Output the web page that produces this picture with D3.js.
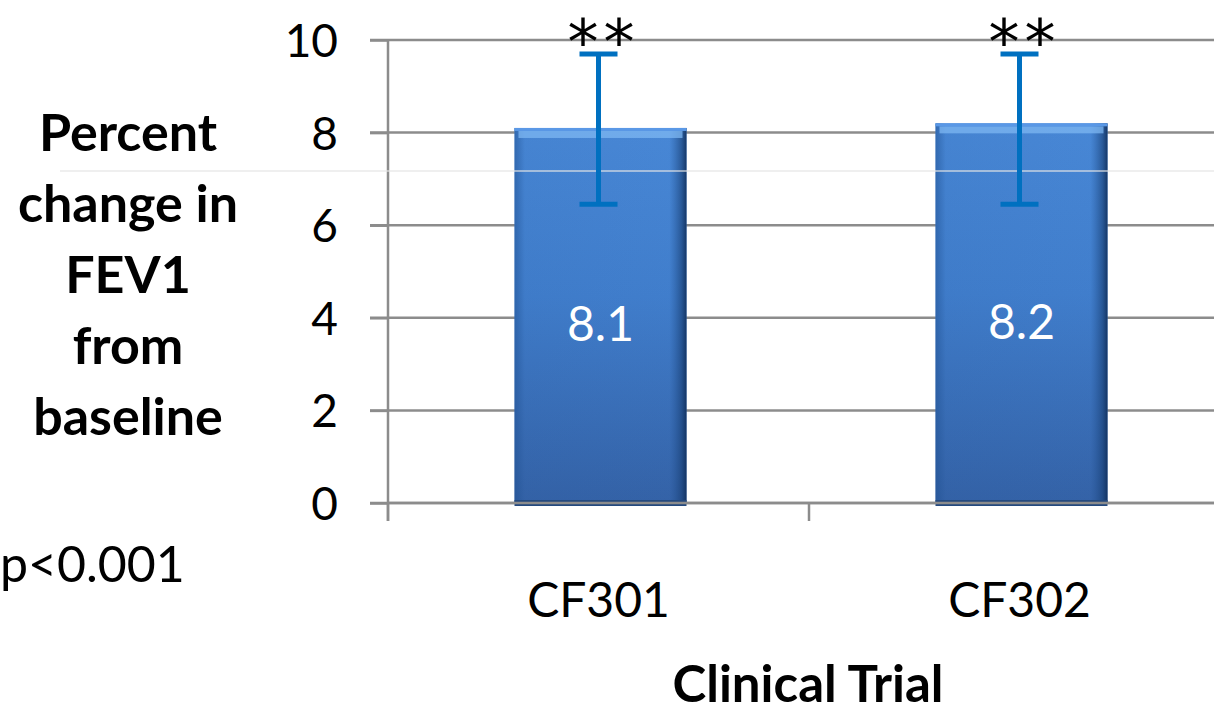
<!DOCTYPE html>
<html><head><meta charset="utf-8">
<script src="https://cdn.jsdelivr.net/npm/d3@7"></script>
<style>body{margin:0;background:#fff;overflow:hidden}svg{display:block}</style>
</head><body>
<script>
const categories = ["CF301", "CF302"];
const values = [8.1, 8.2];
const valueLabels = ["8.1", "8.2"];
const errLow = [6.45, 6.45];
const errHigh = [9.7, 9.7];
const sigMarks = ["**", "**"];
const yTicks = [0, 2, 4, 6, 8, 10];
const yTitleLines = ["Percent", "change in", "FEV1", "from", "baseline"];
const xTitle = "Clinical Trial";
const note = "p<0.001";

const W = 1214, H = 714;
const FONT = "Lato, 'Open Sans', sans-serif";
const svg = d3.select("body").append("svg").attr("width", W).attr("height", H);

const x0 = 388, x1 = 1230, yTop = 40, yBot = 503;
const x = d3.scaleBand().domain(categories).range([x0, x1]).paddingInner(0).paddingOuter(0);
const y = d3.scaleLinear().domain([0, 10]).range([yBot, yTop]);
const barW = 172;

const defs = svg.append("defs");
const gV = defs.append("linearGradient").attr("id", "gv").attr("x1", 0).attr("x2", 0).attr("y1", 0).attr("y2", 1);
gV.append("stop").attr("offset", "0").attr("stop-color", "#4a8ad9");
gV.append("stop").attr("offset", "0.45").attr("stop-color", "#4280cf");
gV.append("stop").attr("offset", "1").attr("stop-color", "#3563a8");
const gH = defs.append("linearGradient").attr("id", "gh").attr("x1", 0).attr("x2", 1).attr("y1", 0).attr("y2", 0);
gH.append("stop").attr("offset", "0").attr("stop-color", "#1f4f8f").attr("stop-opacity", 0.55);
gH.append("stop").attr("offset", "0.06").attr("stop-color", "#1f4f8f").attr("stop-opacity", 0.1);
gH.append("stop").attr("offset", "0.9").attr("stop-color", "#1f4f8f").attr("stop-opacity", 0.05);
gH.append("stop").attr("offset", "0.97").attr("stop-color", "#163c70").attr("stop-opacity", 0.6);
gH.append("stop").attr("offset", "1").attr("stop-color", "#102e5a").attr("stop-opacity", 0.9);

// gridlines
const gridColor = "#8c8c8c";
svg.append("g").selectAll("line").data(yTicks).join("line")
  .attr("x1", x0 - 18).attr("x2", W).attr("y1", d => y(d)).attr("y2", d => y(d))
  .attr("stroke", gridColor).attr("stroke-width", 2.5);

// y axis
const yAxis = d3.axisLeft(y).tickValues(yTicks).tickSize(18).tickPadding(32);
const ya = svg.append("g").attr("transform", `translate(${x0},0)`).call(yAxis);
ya.select(".domain").remove();
ya.selectAll(".tick line").attr("stroke", gridColor).attr("stroke-width", 2.5);
ya.selectAll(".tick text").attr("font-family", FONT).attr("font-size", 46).attr("fill", "#000").attr("dy", "0.36em");
svg.append("line").attr("x1", x0).attr("x2", x0).attr("y1", yTop).attr("y2", yBot + 18)
  .attr("stroke", gridColor).attr("stroke-width", 2.5);

// x axis ticks at band boundaries
const xa = d3.axisBottom(x).tickSize(0).tickPadding(80);
const xg = svg.append("g").attr("transform", `translate(0,${yBot})`).call(xa);
xg.select(".domain").remove();
xg.selectAll(".tick text").attr("font-family", FONT).attr("font-size", 48).attr("fill", "#000");
svg.append("g").selectAll("line").data(categories).join("line")
  .attr("x1", d => x(d)).attr("x2", d => x(d)).attr("y1", yBot).attr("y2", yBot + 18)
  .attr("stroke", gridColor).attr("stroke-width", 2.5);

// bars
const cx = d => x(d) + x.bandwidth() / 2;
const bars = svg.append("g").selectAll("g").data(categories).join("g");
bars.append("rect").attr("x", d => cx(d) - barW / 2 + 2).attr("width", barW)
  .attr("y", (d, i) => y(values[i])).attr("height", (d, i) => y(0) - y(values[i]))
  .attr("fill", "url(#gv)");
bars.append("rect").attr("x", d => cx(d) - barW / 2 + 2).attr("width", barW)
  .attr("y", (d, i) => y(values[i])).attr("height", (d, i) => y(0) - y(values[i]))
  .attr("fill", "url(#gh)");
bars.append("rect").attr("x", d => cx(d) - barW / 2 + 6).attr("width", barW - 8)
  .attr("y", (d, i) => y(values[i]) + 3).attr("height", 7)
  .attr("fill", "#7db7f2").attr("opacity", 0.75);
bars.append("rect").attr("x", d => cx(d) - barW / 2 + 2).attr("width", barW)
  .attr("y", (d, i) => y(values[i])).attr("height", 3)
  .attr("fill", "#5a98e6");
bars.append("rect").attr("x", d => cx(d) - barW / 2 + 2).attr("width", barW)
  .attr("y", y(0) - 3).attr("height", 6).attr("fill", "#24497e");
// baseline over bars
svg.append("line").attr("x1", x0).attr("x2", W).attr("y1", yBot).attr("y2", yBot)
  .attr("stroke", gridColor).attr("stroke-width", 2.5);

// faint separator line
svg.append("line").attr("x1", 60).attr("x2", W).attr("y1", 171).attr("y2", 171)
  .attr("stroke", "#e6e6e6").attr("stroke-width", 1.5).attr("opacity", 0.8);

// value labels
bars.append("text").attr("x", d => cx(d) + 2).attr("y", (d, i) => (y(values[i]) + y(0)) / 2 + 7)
  .attr("text-anchor", "middle").attr("dominant-baseline", "central")
  .attr("font-family", FONT).attr("font-size", 48).attr("fill", "#fff")
  .text((d, i) => valueLabels[i]);

// error bars
const eb = svg.append("g").attr("stroke", "#0070c0").attr("stroke-width", 5);
eb.selectAll(".v").data(categories).join("line")
  .attr("x1", d => cx(d)).attr("x2", d => cx(d))
  .attr("y1", (d, i) => y(errHigh[i])).attr("y2", (d, i) => y(errLow[i]));
eb.selectAll(".t").data(categories).join("line")
  .attr("x1", d => cx(d) - 19).attr("x2", d => cx(d) + 19)
  .attr("y1", (d, i) => y(errHigh[i])).attr("y2", (d, i) => y(errHigh[i]));
eb.selectAll(".b").data(categories).join("line")
  .attr("x1", d => cx(d) - 19).attr("x2", d => cx(d) + 19)
  .attr("y1", (d, i) => y(errLow[i])).attr("y2", (d, i) => y(errLow[i]));

// significance stars
svg.append("g").selectAll("text").data(categories).join("text")
  .attr("x", d => cx(d) + 5).attr("y", 64)
  .attr("text-anchor", "middle").attr("font-family", "'DejaVu Sans', sans-serif")
  .attr("font-size", 62).attr("letter-spacing", 5).attr("fill", "#000")
  .text((d, i) => sigMarks[i]);

// y title
svg.append("text").attr("font-family", FONT).attr("font-weight", "bold").attr("font-size", 52)
  .attr("text-anchor", "middle").attr("fill", "#000")
  .selectAll("tspan").data(yTitleLines).join("tspan")
  .attr("x", 128).attr("y", (d, i) => 151 + i * 71).text(d => d);

// x title
svg.append("text").attr("x", 808).attr("y", 702).attr("text-anchor", "middle")
  .attr("font-family", FONT).attr("font-weight", "bold").attr("font-size", 51).attr("fill", "#000")
  .text(xTitle);

// note
svg.append("text").attr("x", 0).attr("y", 582).attr("font-family", FONT)
  .attr("font-size", 50).attr("fill", "#000").text(note);
</script>
</body></html>
